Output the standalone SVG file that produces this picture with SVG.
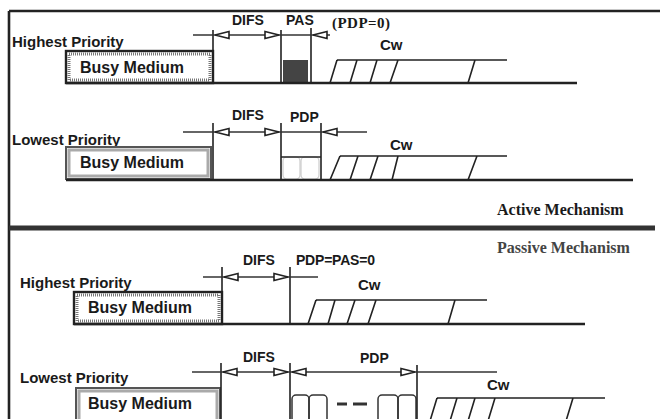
<svg xmlns="http://www.w3.org/2000/svg" width="660" height="419" viewBox="0 0 660 419">
<style>
.ln{stroke:#222;stroke-width:1.6;fill:none}
.base{stroke:#222;stroke-width:2.6;fill:none}
.dim{stroke:#333;stroke-width:1.3;fill:none}
.ah{fill:#fff;stroke:#222;stroke-width:1.6}
.sans{font-family:"Liberation Sans",Arial,sans-serif;font-weight:bold;fill:#1a1a1a}
.lbl{font-size:15px}
.busy{font-size:16px}
.sm{font-size:14px}
.cw{font-size:15px}
.serif{font-family:"Liberation Serif","Times New Roman",serif;font-weight:bold;fill:#1a1a1a}
.pd{font-size:15px}
.mech{font-size:16px}
.boxd{fill:#fff;stroke:#222;stroke-width:2.4}
.boxdi{fill:none;stroke:#777;stroke-width:3;stroke-dasharray:1 1}
.boxl{fill:#fff;stroke:#555;stroke-width:2}
.boxli{fill:none;stroke:#aaa;stroke-width:3}
.slot{fill:none;stroke:#333;stroke-width:1.5}
</style>
<defs>
<path id="al" d="M0,0 L14,-3.5 L14,3.5 Z"/>
<path id="ar" d="M0,0 L-14,-3.5 L-14,3.5 Z"/>
</defs>
<rect width="660" height="419" fill="#fff"/>
<g id="frame">
<line x1="9" y1="11" x2="660" y2="11" class="base"/>
<line x1="9" y1="11" x2="9" y2="419" class="base"/>
</g>

<g id="panel1">
<text x="12" y="47" class="sans lbl">Highest Priority</text>
<rect x="66" y="51" width="147" height="32" class="boxd"/>
<rect x="69" y="54" width="141" height="26" class="boxdi"/>
<text x="80" y="73" class="sans busy">Busy Medium</text>
<rect x="283" y="60" width="25" height="23" fill="#444"/>
<path class="ln" d="M337,60 H507 M330,83 L337,60 M350,83 L357,60 M370,83 L377,60 M390,83 L398,60 M468,83 L475,60"/>
<line x1="66" y1="83" x2="577" y2="83" class="base"/>
<text x="232" y="25" class="sans sm">DIFS</text>
<text x="286" y="25" class="sans sm">PAS</text>
<text x="332" y="28" class="serif pd" textLength="58">(PDP=0)</text>
<text x="380" y="50" class="sans cw">Cw</text>
</g>

<g id="panel2">
<text x="12" y="145" class="sans lbl">Lowest Priority</text>
<rect x="66" y="147" width="145" height="32" class="boxl"/>
<rect x="69" y="150" width="139" height="26" class="boxli"/>
<text x="80" y="168" class="sans busy">Busy Medium</text>
<rect x="283" y="157" width="17" height="22" rx="4" fill="none" stroke="#ccc" stroke-width="1.2"/>
<rect x="301" y="157" width="18" height="22" rx="4" fill="none" stroke="#ccc" stroke-width="1.2"/>
<line x1="281" y1="157" x2="321" y2="157" class="ln"/>
<path class="ln" d="M340,156 H507 M330,180 L340,156 M350,180 L358,156 M370,180 L378,156 M392,180 L398,156 M468,180 L477,156"/>
<line x1="66" y1="180" x2="633" y2="180" class="base"/>
<text x="232" y="120" class="sans sm">DIFS</text>
<text x="290" y="122" class="sans sm">PDP</text>
<text x="390" y="150" class="sans cw">Cw</text>
</g>

<g id="separator">
<line x1="9" y1="228" x2="655" y2="228" stroke="#333" stroke-width="5"/>
<text x="497" y="215" class="serif mech">Active Mechanism</text>
<text x="497" y="253" class="serif mech" style="fill:#444">Passive Mechanism</text>
</g>

<g id="panel3">
<text x="20" y="288" class="sans lbl">Highest Priority</text>
<rect x="74" y="292" width="148" height="32" class="boxd"/>
<rect x="77" y="295" width="142" height="26" class="boxdi"/>
<text x="88" y="313" class="sans busy">Busy Medium</text>
<path class="ln" d="M316,300 H487 M308,324 L316,300 M328,324 L335,300 M347,324 L355,300 M368,324 L376,300 M448,324 L455,300"/>
<line x1="74" y1="324" x2="585" y2="324" class="base"/>
<text x="243" y="265" class="sans sm">DIFS</text>
<text x="296" y="265" class="sans sm" textLength="79">PDP=PAS=0</text>
<text x="358" y="290" class="sans cw">Cw</text>
</g>

<g id="panel4">
<text x="20" y="383" class="sans lbl">Lowest Priority</text>
<rect x="76" y="388" width="144" height="40" class="boxl"/>
<rect x="79" y="391" width="138" height="34" class="boxli"/>
<text x="88" y="409" class="sans busy">Busy Medium</text>
<rect x="292" y="395" width="17" height="30" rx="4" class="slot"/>
<rect x="309" y="395" width="18" height="30" rx="4" class="slot"/>
<line x1="337" y1="404" x2="347" y2="404" stroke="#333" stroke-width="3"/>
<line x1="353" y1="404" x2="367" y2="404" stroke="#333" stroke-width="3"/>
<rect x="378" y="395" width="20" height="30" rx="4" class="slot"/>
<rect x="398" y="395" width="18" height="30" rx="4" class="slot"/>
<path class="ln" d="M437,398 H605 M430,421 L437,398 M450,421 L457,398 M468,421 L475,398 M488,421 L495,398 M566,421 L573,398"/>
<text x="243" y="362" class="sans sm">DIFS</text>
<text x="360" y="363" class="sans sm">PDP</text>
<text x="487" y="390" class="sans cw">Cw</text>
</g>

<g id="connectors">
<path class="ln" d="M213,30 V83 M281,30 V83 M311,28 V83"/>
<line x1="193" y1="35" x2="330" y2="35" class="dim"/>
<use href="#al" x="215" y="35" class="ah"/>
<use href="#ar" x="279" y="35" class="ah"/>
<use href="#al" x="313" y="35" class="ah"/>

<path class="ln" d="M213,123 V180 M281,123 V180 M321,123 V180"/>
<line x1="183" y1="132" x2="367" y2="132" class="dim"/>
<use href="#al" x="215" y="132" class="ah"/>
<use href="#ar" x="279" y="132" class="ah"/>
<use href="#al" x="323" y="132" class="ah"/>

<path class="ln" d="M222,267 V324 M290,267 V324"/>
<line x1="203" y1="277" x2="318" y2="277" class="dim"/>
<use href="#al" x="224" y="277" class="ah"/>
<use href="#ar" x="288" y="277" class="ah"/>

<path class="ln" d="M221,363 V419 M290,363 V419 M417,365 V419"/>
<line x1="192" y1="372" x2="497" y2="372" class="dim"/>
<use href="#al" x="223" y="372" class="ah"/>
<use href="#ar" x="288" y="372" class="ah"/>
<use href="#al" x="292" y="372" class="ah"/>
<use href="#ar" x="415" y="372" class="ah"/>
</g>
</svg>
